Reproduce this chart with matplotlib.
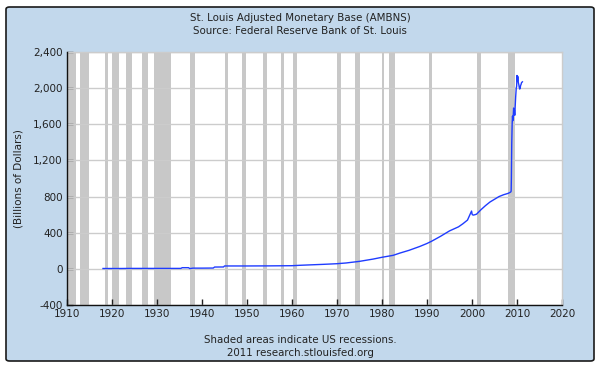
import matplotlib
matplotlib.use("Agg")
import matplotlib.pyplot as plt
from matplotlib.patches import FancyBboxPatch

# monetary base, billions of dollars
years = [1918.0, 1920, 1922, 1924, 1926, 1928, 1930, 1932, 1934, 1935.3, 1935.6,
         1937.0, 1937.3, 1938.0, 1940, 1942.5, 1942.8, 1944.8, 1945.0, 1950, 1955,
         1960, 1962, 1965, 1967, 1970, 1972, 1975, 1978, 1980, 1982.5, 1984, 1986,
         1988.4, 1990, 1991, 1993, 1995, 1997, 1998, 1999,
         1999.9, 2000.05, 2000.3, 2000.7, 2001, 2002, 2003, 2004, 2005, 2006,
         2007, 2008.0, 2008.6, 2008.7, 2008.75, 2008.83, 2008.92, 2009.0, 2009.08,
         2009.17, 2009.25, 2009.33, 2009.42, 2009.5, 2009.6, 2009.7, 2009.83,
         2009.92, 2010.0, 2010.08, 2010.17, 2010.3, 2010.4, 2010.5, 2010.6, 2010.7,
         2010.8, 2010.9, 2011.0, 2011.2]
base = [4, 4, 4, 5, 5, 5, 5, 5, 5, 5, 13,
        13, 3, 8, 8, 9, 20, 21, 32, 32, 33,
        35, 40, 46, 50, 57, 65, 83, 108, 128, 150, 175, 205,
        248, 281, 305, 360, 420, 465, 500, 540,
        640, 600, 595, 600, 605, 655, 700, 740, 770, 800,
        820, 835, 850, 860, 1000, 1380, 1600, 1690, 1640,
        1700, 1780, 1720, 1760, 1700, 1800, 1900, 2000,
        2020, 2140, 2080, 2130, 2060, 2040, 2010, 1990, 2000,
        2030, 2040, 2060, 2070]

recessions = [(1910.0, 1912.0), (1912.8, 1914.9), (1918.4, 1919.2), (1919.9, 1921.5),
              (1923.2, 1924.5), (1926.7, 1927.9), (1929.4, 1933.2), (1937.3, 1938.5),
              (1945.0, 1945.8), (1948.9, 1949.8), (1953.5, 1954.4), (1957.6, 1958.3),
              (1960.3, 1961.1), (1969.9, 1970.9), (1973.9, 1975.2), (1980.0, 1980.5),
              (1981.5, 1982.9), (1990.5, 1991.2), (2001.2, 2001.9), (2007.9, 2009.5)]

x_ticks = list(range(1910, 2021, 10))
y_ticks = list(range(-400, 2401, 400))

fig = plt.figure(figsize=(6, 3.75), dpi=100)
fig.patch.set_facecolor("white")

# light blue panel with dark border
panel = FancyBboxPatch((6 / 600, 1 - 361 / 375), 588 / 600, 354 / 375,
                       boxstyle="round,pad=0,rounding_size=0.006",
                       transform=fig.transFigure, facecolor="#c2d8ec",
                       edgecolor="#1a1a1a", linewidth=1.2, zorder=-10)
fig.patches.append(panel)

ax = fig.add_axes([67 / 600, 70 / 375, 495 / 600, 253 / 375])
ax.set_zorder(5)
ax.set_facecolor("white")

for start, end in recessions:
    ax.axvspan(start, end, color="#c8c8c8", lw=0, zorder=1)

for y in y_ticks:
    ax.axhline(y, color="#cccccc", lw=1, zorder=2)

ax.plot(years, base, color="#1f3cff", lw=1, zorder=3)

ax.set_xlim(1910, 2020)
ax.set_ylim(-400, 2400)
ax.set_xticks(x_ticks)
ax.set_yticks(y_ticks)
ax.set_yticklabels([f"{v:,}" for v in y_ticks])
ax.tick_params(direction="in", length=4, width=1, labelsize=7.5, colors="#222222", pad=3)
for side in ["top", "right"]:
    ax.spines[side].set_color("#cccccc")
    ax.spines[side].set_linewidth(1)
for side in ["left", "bottom"]:
    ax.spines[side].set_color("#111111")
    ax.spines[side].set_linewidth(1)
    ax.spines[side].set_zorder(4)

ax.set_ylabel("(Billions of Dollars)", fontsize=7.5, color="#222222")
ax.yaxis.set_label_coords(-43 / 495, 0.5)

fig.text(0.5, 1 - 18 / 375, "St. Louis Adjusted Monetary Base (AMBNS)",
         ha="center", va="center", fontsize=7.4, color="#222222")
fig.text(0.5, 1 - 31 / 375, "Source: Federal Reserve Bank of St. Louis",
         ha="center", va="center", fontsize=7.4, color="#222222")
fig.text(0.5, 1 - 340 / 375, "Shaded areas indicate US recessions.",
         ha="center", va="center", fontsize=7.4, color="#222222")
fig.text(0.5, 1 - 353 / 375, "2011 research.stlouisfed.org",
         ha="center", va="center", fontsize=7.4, color="#222222")

fig.savefig("out.png", dpi=100)
